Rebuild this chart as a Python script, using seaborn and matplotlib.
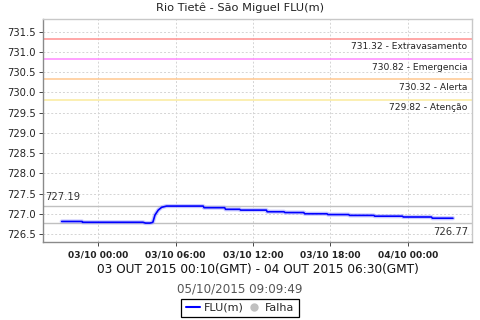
import matplotlib
matplotlib.use("Agg")
import matplotlib.pyplot as plt
import matplotlib.dates as mdates
from matplotlib.lines import Line2D
import matplotlib.transforms as mtrans
import seaborn as sns
import pandas as pd

# ---------------- data ----------------
times = [
    "2015-10-02 21:10", "2015-10-02 22:45", "2015-10-02 22:47", "2015-10-03 03:28",
    "2015-10-03 03:40", "2015-10-03 04:00", "2015-10-03 04:08", "2015-10-03 04:14",
    "2015-10-03 04:24", "2015-10-03 04:39", "2015-10-03 04:55", "2015-10-03 05:18",
    "2015-10-03 08:08", "2015-10-03 08:12", "2015-10-03 09:48", "2015-10-03 09:52",
    "2015-10-03 10:58", "2015-10-03 11:02", "2015-10-03 13:02", "2015-10-03 13:06",
    "2015-10-03 14:24", "2015-10-03 14:28", "2015-10-03 15:56", "2015-10-03 16:00",
    "2015-10-03 17:44", "2015-10-03 17:48", "2015-10-03 19:25", "2015-10-03 19:29",
    "2015-10-03 21:22", "2015-10-03 21:26", "2015-10-03 23:35", "2015-10-03 23:39",
    "2015-10-04 01:50", "2015-10-04 01:54", "2015-10-04 03:30",
]
levels = [
    726.81, 726.81, 726.79, 726.79,
    726.77, 726.77, 726.78, 726.79,
    726.97, 727.09, 727.16, 727.19,
    727.19, 727.15, 727.15, 727.11,
    727.11, 727.09, 727.09, 727.05,
    727.05, 727.03, 727.03, 727.00,
    727.00, 726.98, 726.98, 726.96,
    726.96, 726.94, 726.94, 726.92,
    726.92, 726.89, 726.89,
]
threshold_values = [731.32, 730.82, 730.32, 729.82]
threshold_names = ["Extravasamento", "Emergencia", "Alerta", "Atenção"]
threshold_colors = ["#ff9090", "#ff88ff", "#ffc890", "#fbeb9c"]
max_value = 727.19
min_value = 726.77
y_ticks = [726.5, 727.0, 727.5, 728.0, 728.5, 729.0, 729.5, 730.0, 730.5, 731.0, 731.5]
title = "Rio Tietê - São Miguel FLU(m)"
xlabel = "03 OUT 2015 00:10(GMT) - 04 OUT 2015 06:30(GMT)"
stamp = "05/10/2015 09:09:49"
series_name = "FLU(m)"
fail_name = "Falha"

df = pd.DataFrame({"t": pd.to_datetime(times), "v": levels})

# ---------------- style ----------------
sns.set_style("white")
plt.rcParams["font.family"] = ["DejaVu Sans"]

W, H = 480, 320
fig = plt.figure(figsize=(4.8, 3.2), dpi=100)
L, R, T, B = 43, 472.3, 19, 241.7
ax = fig.add_axes([L / W, 1 - B / H, (R - L) / W, (B - T) / H])
ax.set_facecolor("white")

# halo + main line
sns.lineplot(data=df, x="t", y="v", ax=ax, color="#a0a0ff", lw=3.0, alpha=0.55,
             estimator=None, sort=False, legend=False)
sns.lineplot(data=df, x="t", y="v", ax=ax, color="#0000ff", lw=1.2,
             estimator=None, sort=False, legend=False)

ax.set_xlim(pd.Timestamp("2015-10-02 19:43"), pd.Timestamp("2015-10-04 05:00"))
ax.set_ylim(726.31, 731.81)
ax.set_yticks(y_ticks)
ax.yaxis.set_major_formatter(matplotlib.ticker.FormatStrFormatter("%.1f"))
ax.xaxis.set_major_locator(mdates.HourLocator(byhour=[0, 6, 12, 18]))
ax.xaxis.set_major_formatter(mdates.DateFormatter("%d/%m %H:%M"))

ax.grid(True, color="#d4d4d4", ls=(0, (2, 2)), lw=0.7)
ax.set_axisbelow(True)
for s in ["left", "bottom"]:
    ax.spines[s].set_color("#8a8a8a")
for s in ["top", "right"]:
    ax.spines[s].set_color("#c8c8c8")
for s in ax.spines.values():
    s.set_linewidth(1.0)

ax.tick_params(axis="y", labelsize=7.2, colors="#444444", labelcolor="#222222",
               length=3, width=0.7, pad=2, direction="out", left=True)
ax.tick_params(axis="x", labelsize=6.6, colors="#444444", labelcolor="#222222",
               length=3, width=0.7, pad=3, direction="out", bottom=True)
for lab in ax.get_xticklabels():
    lab.set_fontweight("bold")
ax.set_xlabel("")
ax.set_ylabel("")

# thresholds
blend = mtrans.blended_transform_factory(ax.transAxes, ax.transData)
for val, name, col in zip(threshold_values, threshold_names, threshold_colors):
    ax.axhline(val, color=col, lw=1.1, zorder=1.5)
    ax.annotate(f"{val:.2f} - {name}", xy=(1, val), xycoords=blend,
                xytext=(-3.5, -2.5), textcoords="offset points",
                ha="right", va="top", fontsize=6.6, color="#222222")

# max / min lines
ax.axhline(max_value, color="#c0c0c0", lw=1.0, zorder=1.5)
ax.axhline(min_value, color="#c0c0c0", lw=1.0, zorder=1.5)
ax.annotate(f"{max_value:.2f}", xy=(0, max_value), xycoords=blend,
            xytext=(1.5, 3), textcoords="offset points", ha="left", va="bottom",
            fontsize=7.2, color="#333333")
ax.annotate(f"{min_value:.2f}", xy=(1, min_value), xycoords=blend,
            xytext=(-3, -3), textcoords="offset points", ha="right", va="top",
            fontsize=7.2, color="#333333")

# texts
fig.text(240 / W, 1 - 7.5 / H, title, ha="center", va="center", fontsize=8.2, color="#222222")
fig.text((L + R) / 2 / W, 1 - 270 / H, xlabel, ha="center", va="center",
         fontsize=8.7, color="#111111")
fig.text(240 / W, 1 - 289 / H, stamp, ha="center", va="center", fontsize=8.6,
         color="#555555")

handles = [Line2D([], [], color="#0000ff", lw=1.5),
           Line2D([], [], color="#c0c0c0", marker="o", ls="none", markersize=5)]
leg = fig.legend(handles, [series_name, fail_name], loc="center",
                 bbox_to_anchor=(240 / W, 1 - 308 / H), ncol=2, fontsize=8.0,
                 frameon=True, fancybox=False, edgecolor="black", framealpha=1,
                 handlelength=1.3, handletextpad=0.3, columnspacing=0.3,
                 borderpad=0.4, borderaxespad=0, handleheight=0.7)
leg.get_frame().set_linewidth(0.9)

fig.savefig("out.png", dpi=100)
